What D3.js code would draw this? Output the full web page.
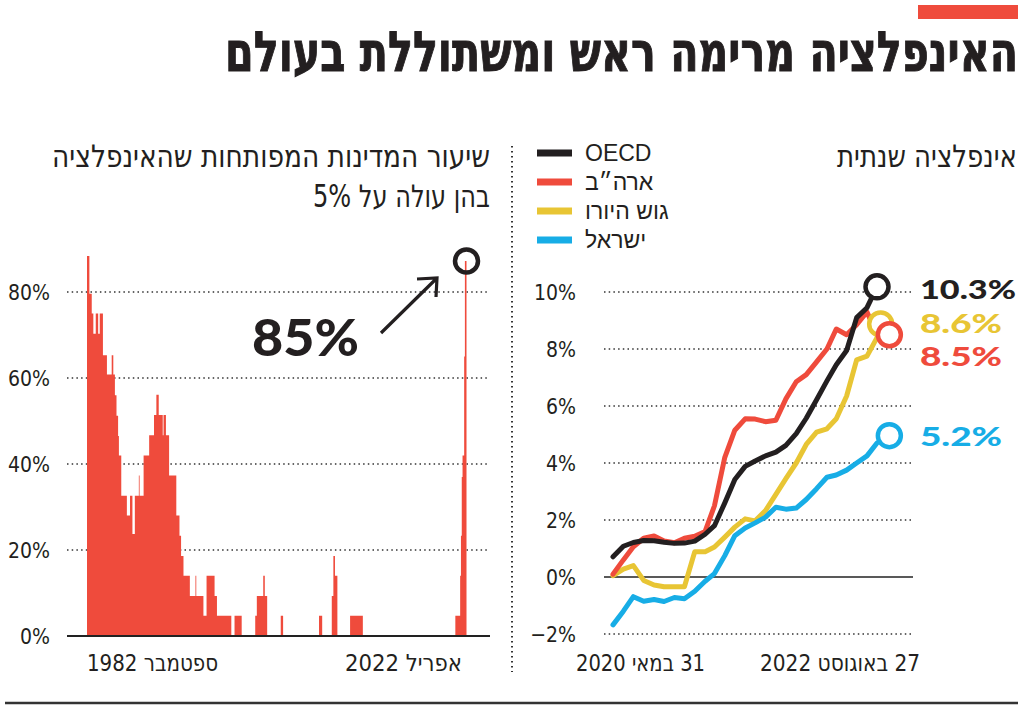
<!DOCTYPE html>
<html><head><meta charset="utf-8">
<script src="https://cdn.jsdelivr.net/npm/d3@7"></script>
<style>
html,body{margin:0;padding:0;background:#fff;}
svg{display:block;}
</style></head><body>
<svg id="c" width="1024" height="706"></svg>
<script>
// ---------- DATA ----------
const title = "האינפלציה מרימה ראש ומשתוללת בעולם";
const leftTitleLines = ["שיעור המדינות המפותחות שהאינפלציה", "בהן עולה על 5%"];
const rightTitle = "אינפלציה שנתית";
const leftTicks = [0, 20, 40, 60, 80];
const rightTicks = [-2, 0, 2, 4, 6, 8, 10];
const leftAxisLabels = ["ספטמבר 1982", "אפריל 2022"];
const rightAxisLabels = ["31 במאי 2020", "27 באוגוסט 2022"];

// share of developed countries with inflation above 5% (step change points)
const stepDates = ["1982-09","1982-12","1983-03","1983-05","1983-08","1983-11","1984-01","1984-05","1984-10","1985-04",
  "1985-06","1985-08","1985-10","1985-12","1986-01","1986-04","1986-11","1987-03","1987-06","1987-09",
  "1988-02","1988-03","1988-08","1989-03","1989-09","1989-12","1990-03","1990-08","1990-09","1990-12",
  "1991-04","1992-01","1992-05","1992-07","1992-10","1993-06","1994-01","1994-02","1994-11","1995-03",
  "1996-01","1996-04","1997-10","1998-02","1998-11","2000-04","2000-06","2001-02","2001-04","2001-07",
  "2002-12","2003-03","2006-12","2007-04","2008-04","2008-06","2008-08","2008-11","2010-03","2011-07",
  "2021-03","2021-09","2021-10","2021-11","2021-12","2022-02","2022-03","2022-05"];
const stepValues = [88.4,79.6,75,70.3,75,70.3,75,65.3,60.8,65.3,
  60.8,56,51.2,46.5,42,32.6,28,32.6,23.7,32.6,
  37.3,32.6,42,46.7,51.4,56.1,51.4,46.7,51.4,46.7,
  37.3,28,23.3,18.6,14,9.3,14,9.3,4.7,14,
  9.3,4.7,0,4.7,0,4.7,9.3,14,9.3,0,
  4.7,0,4.7,0,9.3,18.6,14,0,4.7,0,
  4.7,14,23.3,37,42,65,87.2,87.2];
const peakDate = "2022-05";
const peakValue = 87.2;
const peakLabel = "85%";

// annual inflation, monthly
const months = ["2020-05","2020-06","2020-07","2020-08","2020-09","2020-10","2020-11","2020-12",
  "2021-01","2021-02","2021-03","2021-04","2021-05","2021-06","2021-07","2021-08","2021-09","2021-10","2021-11","2021-12",
  "2022-01","2022-02","2022-03","2022-04","2022-05","2022-06","2022-07"];
const seriesNames = ["OECD", "ארה״ב", "גוש היורו", "ישראל"];
const oecd   = [0.71,1.08,1.21,1.28,1.27,1.22,1.18,1.19,1.26,1.5,1.8,2.6,3.42,3.88,4.07,4.25,4.38,4.62,5.03,5.57,6.22,6.88,7.45,7.95,9.1,9.45,10.18];
const usa    = [0.1,0.6,1.06,1.36,1.44,1.26,1.2,1.36,1.43,1.6,2.5,4.2,5.15,5.55,5.54,5.45,5.5,6.25,6.85,7.1,7.55,8.0,8.7,8.5,8.85,9.3,8.5];
const euro   = [0.05,0.28,0.4,-0.12,-0.28,-0.34,-0.34,-0.34,0.89,0.89,1.05,1.4,1.75,2.04,1.97,2.33,2.9,3.45,4.0,4.65,5.08,5.2,5.55,6.35,7.62,7.75,8.4];
const israel = [-1.68,-1.2,-0.69,-0.85,-0.79,-0.86,-0.72,-0.76,-0.5,-0.15,0.12,0.75,1.45,1.72,1.9,2.1,2.45,2.38,2.42,2.72,3.1,3.5,3.58,3.75,4.0,4.25,4.7];
const endDates  = ["2022-07-01","2022-08-07","2022-07-12","2022-08-07"];
const endValues = [10.18, 8.5, 8.88, 4.96];
const endLabels = ["10.3%", "8.5%", "8.6%", "5.2%"];

// ---------- STYLE ----------
const RED = "#ef4b3c", BLACK = "#231f20", YELLOW = "#e8c534", BLUE = "#17ade6";
const colors = [BLACK, RED, YELLOW, BLUE];
const condensed = "'DejaVu Sans Condensed','DejaVu Sans',sans-serif";
const sans = "'Liberation Sans',Arial,sans-serif";
const bold = "Lato,'Open Sans',sans-serif";

const svg = d3.select("#c");
const parseM = d3.timeParse("%Y-%m");
const parseD = d3.timeParse("%Y-%m-%d");

// right-to-left embedded text, right-aligned at x, optionally stretched vertically
function rtl(sel, x, y, str, size, len, sy, extra) {
  const g = sel.append("g").attr("transform", `translate(${x},${y}) scale(1,${sy || 1})`);
  const t = g.append("text").attr("x", 0).attr("y", 0).attr("text-anchor", "end")
    .attr("font-family", condensed).attr("font-size", size).attr("fill", BLACK)
    .attr("textLength", len).attr("lengthAdjust", "spacingAndGlyphs").text("\u202B" + str + "\u202C");
  if (extra) extra(t);
  return t;
}

// title
svg.append("rect").attr("x", 918).attr("y", 5).attr("width", 100).attr("height", 14).attr("fill", RED);
rtl(svg, 1018, 71, title, 46, 793, 1.2, t => t.attr("font-weight", "bold").attr("stroke", BLACK).attr("stroke-width", 0.8));

// separators
svg.append("line").attr("x1", 512).attr("x2", 512).attr("y1", 146).attr("y2", 672)
  .attr("stroke", "#333").attr("stroke-width", 2).attr("stroke-dasharray", "1.5,3.5");
svg.append("line").attr("x1", 5).attr("x2", 1018).attr("y1", 703).attr("y2", 703)
  .attr("stroke", "#333").attr("stroke-width", 2.5);

// ---------- LEFT CHART ----------
const xL = d3.scaleTime().domain([parseM("1982-09"), parseM("2022-05")]).range([87, 466.5]);
const yL = d3.scaleLinear().domain([0, 80]).range([636, 292]);

rtl(svg, 490, 167, leftTitleLines[0], 27, 438, 1.15);
rtl(svg, 490, 207, leftTitleLines[1], 27, 177, 1.15);

const gL = svg.append("g");
gL.selectAll("line.grid").data(leftTicks.filter(d => d > 0)).join("line")
  .attr("x1", 67).attr("x2", 490).attr("y1", d => yL(d)).attr("y2", d => yL(d))
  .attr("stroke", "#333").attr("stroke-width", 1.6).attr("stroke-dasharray", "1.5,3.2");
gL.selectAll("text.tick").data(leftTicks).join("text")
  .attr("x", 50).attr("y", d => yL(d) + 8).attr("text-anchor", "end")
  .attr("font-family", condensed).attr("font-size", 21).attr("fill", BLACK)
  .text(d => d + "%");

const stepData = stepDates.map((d, i) => ({ date: parseM(d), value: stepValues[i] }));
gL.append("path").datum(stepData)
  .attr("d", d3.area().curve(d3.curveStepAfter).x(d => xL(d.date)).y0(yL(0)).y1(d => yL(d.value)))
  .attr("fill", RED);
gL.append("line").attr("x1", 67).attr("x2", 490).attr("y1", yL(0)).attr("y2", yL(0))
  .attr("stroke", "#222").attr("stroke-width", 2);

gL.append("circle").attr("cx", xL(parseM(peakDate))).attr("cy", yL(peakValue)).attr("r", 11.5)
  .attr("fill", "none").attr("stroke", BLACK).attr("stroke-width", 4.5);
gL.append("text").attr("x", 359).attr("y", 356).attr("text-anchor", "end")
  .attr("font-family", bold).attr("font-weight", 900).attr("font-size", 52).attr("fill", BLACK)
  .attr("textLength", 107).attr("lengthAdjust", "spacingAndGlyphs").text(peakLabel);
// arrow
const ax1 = 381, ay1 = 333, ax2 = 437, ay2 = 278;
gL.append("path").attr("d", `M${ax1},${ay1}L${ax2},${ay2}M${ax2 - 20},${ay2 + 1}L${ax2},${ay2}L${ax2 - 1},${ay2 + 19}`)
  .attr("fill", "none").attr("stroke", BLACK).attr("stroke-width", 3.2).attr("stroke-linejoin", "miter");

rtl(gL, xL(parseM("1982-09")) + 131, 671, leftAxisLabels[0], 23, 131);
rtl(gL, 462, 671, leftAxisLabels[1], 23, 117);

// ---------- RIGHT CHART ----------
const xR = d3.scaleTime().domain([parseM(months[0]), parseM(months[months.length - 1])]).range([613, 877]);
const yR = d3.scaleLinear().domain([-2, 10]).range([634, 292]);
const gR = svg.append("g");

rtl(svg, 1017, 167, rightTitle, 27, 180, 1.15);

// legend
const legY = [153, 182, 211, 240];
seriesNames.forEach((n, i) => {
  svg.append("line").attr("x1", 537).attr("x2", 572).attr("y1", legY[i]).attr("y2", legY[i])
    .attr("stroke", colors[i]).attr("stroke-width", 7);
  svg.append("text").attr("x", 585).attr("y", legY[i] + 8)
    .attr("font-family", sans).attr("font-size", 23).attr("fill", BLACK).text(n);
});

gR.selectAll("line.grid").data(rightTicks.filter(d => d !== 0)).join("line")
  .attr("x1", 604).attr("x2", 913).attr("y1", d => yR(d)).attr("y2", d => yR(d))
  .attr("stroke", "#333").attr("stroke-width", 1.6).attr("stroke-dasharray", "1.5,3.2");
gR.append("line").attr("x1", 604).attr("x2", 913).attr("y1", yR(0)).attr("y2", yR(0))
  .attr("stroke", "#222").attr("stroke-width", 1.6);
gR.selectAll("text.tick").data(rightTicks).join("text")
  .attr("x", 576).attr("y", d => yR(d) + 8).attr("text-anchor", "end")
  .attr("font-family", condensed).attr("font-size", 21).attr("fill", BLACK)
  .text(d => (d < 0 ? "\u2212" + Math.abs(d) : d) + "%");

const series = [oecd, usa, euro, israel];
const line = d3.line().x((d, i) => xR(parseM(months[i]))).y(d => yR(d));
const order = [2, 3, 1, 0];
order.forEach(k => {
  gR.append("path").datum(series[k]).attr("d", line)
    .attr("fill", "none").attr("stroke", colors[k]).attr("stroke-width", 5)
    .attr("stroke-linejoin", "round").attr("stroke-linecap", "round");
});
// end circles
[2, 1, 3, 0].forEach(k => {
  gR.append("circle").attr("cx", xR(parseD(endDates[k]))).attr("cy", yR(endValues[k])).attr("r", 11.5)
    .attr("fill", "#fff").attr("stroke", colors[k]).attr("stroke-width", 4.5);
});
// end labels
const labelY = [299, 366, 333, 446];
endLabels.forEach((l, k) => {
  svg.append("text").attr("x", 920).attr("y", labelY[k])
    .attr("font-family", bold).attr("font-weight", 900).attr("font-size", 27).attr("fill", colors[k])
    .attr("textLength", k === 0 ? 96 : 82).attr("lengthAdjust", "spacingAndGlyphs").text(l);
});

rtl(gR, 705, 671, rightAxisLabels[0], 23, 129);
rtl(gR, 920, 671, rightAxisLabels[1], 23, 160);
</script>
</body></html>
